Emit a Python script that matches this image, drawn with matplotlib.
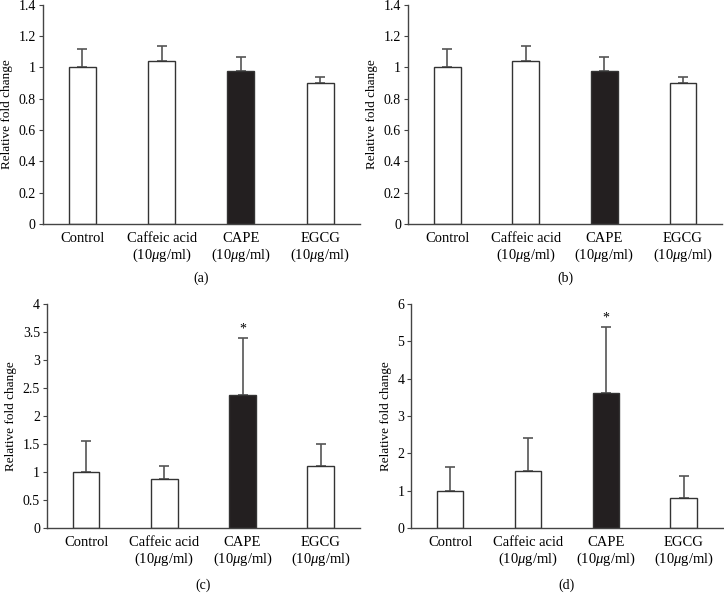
import matplotlib
matplotlib.use("Agg")
import matplotlib.pyplot as plt
import numpy as np

categories = ["Control", "Caffeic acid\n(10$\\mu$g/ml)", "CAPE\n(10$\\mu$g/ml)", "EGCG\n(10$\\mu$g/ml)"]
vals_a = [1.00, 1.04, 0.98, 0.90]
err_a = [0.12, 0.10, 0.085, 0.04]
vals_b = [1.00, 1.04, 0.98, 0.90]
err_b = [0.12, 0.10, 0.085, 0.04]
vals_c = [1.00, 0.87, 2.37, 1.10]
err_c = [0.56, 0.24, 1.03, 0.40]
vals_d = [1.00, 1.53, 3.62, 0.80]
err_d = [0.62, 0.87, 1.77, 0.58]
colors = ["white", "white", "#231f20", "white"]
star_c = [False, False, True, False]
star_d = [False, False, True, False]
ylims = [(0, 1.4, 0.2), (0, 1.4, 0.2), (0, 4, 0.5), (0, 6, 1)]
panel_labels = ["(a)", "(b)", "(c)", "(d)"]

plt.rcParams['font.family'] = ['Liberation Serif', 'DejaVu Serif']
plt.rcParams['mathtext.fontset'] = 'custom'
plt.rcParams['mathtext.it'] = 'Liberation Serif:italic'
plt.rcParams['mathtext.rm'] = 'Liberation Serif'

fig = plt.figure(figsize=(7.24, 6.02), dpi=100)
positions = [
    [0.059, 0.628, 0.438, 0.364],
    [0.5635, 0.628, 0.434, 0.364],
    [0.065, 0.123, 0.432, 0.372],
    [0.568, 0.123, 0.430, 0.372],
]
label_offsets = [-0.247, -0.247, -0.254, -0.254]
data = [(vals_a, err_a, None), (vals_b, err_b, None), (vals_c, err_c, star_c), (vals_d, err_d, star_d)]
for i, (pos, (v, e, s)) in enumerate(zip(positions, data)):
    ax = fig.add_axes(pos)
    x = np.arange(len(categories))
    ax.bar(x, v, width=0.34, color=colors, edgecolor="#333333", linewidth=1.0, zorder=2)
    ax.errorbar(x, v, yerr=[np.zeros(len(e)), e], fmt='none', ecolor="#555555",
                elinewidth=1.2, capsize=3.5, capthick=1.2, zorder=1)
    if s is not None:
        for xi, vi, ei, si in zip(x, v, e, s):
            if si:
                ymax = ylims[i][1]
                ax.text(xi, vi + ei + ymax * 0.01, "*", ha="center", va="bottom", fontsize=10)
    lo, hi, step = ylims[i]
    ax.set_ylim(lo, hi)
    ticks = np.arange(lo, hi + step / 2, step)
    ax.set_yticks(ticks)
    ax.set_yticklabels([("%g" % t) for t in ticks], fontsize=10)
    ax.set_xlim(-0.5, 3.5)
    ax.set_xticks(x)
    ax.set_xticklabels(categories, fontsize=10.5, linespacing=1.1)
    ax.tick_params(axis='x', length=0, pad=6)
    ax.tick_params(axis='y', length=3, width=0.8, color="#444444", direction='out', pad=2)
    for sp in ["top", "right"]:
        ax.spines[sp].set_visible(False)
    for sp in ["left", "bottom"]:
        ax.spines[sp].set_color("#444444")
        ax.spines[sp].set_linewidth(1.0)
    ax.set_ylabel("Relative fold change", fontsize=9.5, labelpad=4)
    ax.text(0.5, label_offsets[i], panel_labels[i], transform=ax.transAxes,
            ha="center", va="center", fontsize=10)

fig.savefig("out.png", dpi=100, facecolor="white")
